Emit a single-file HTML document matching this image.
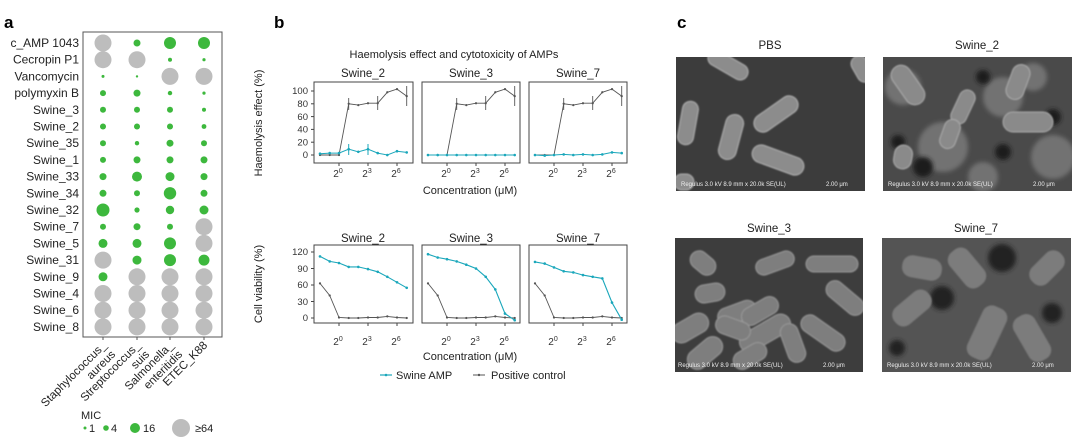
<!DOCTYPE html>
<html><head><meta charset="utf-8"><style>
html,body{margin:0;padding:0;background:#fff;}
svg{display:block;font-family:"Liberation Sans",sans-serif;}
</style></head><body>
<svg width="1080" height="444" viewBox="0 0 1080 444" xmlns="http://www.w3.org/2000/svg">
<defs>
<filter id="bl"><feGaussianBlur stdDeviation="0.8"/></filter>
<filter id="bl2"><feGaussianBlur stdDeviation="2"/></filter>
<marker id="mg" viewBox="-2 -2 4 4" markerWidth="3" markerHeight="3" markerUnits="userSpaceOnUse"><circle r="1.5" fill="#555"/></marker>
<marker id="mc" viewBox="-2 -2 4 4" markerWidth="3.5" markerHeight="3.5" markerUnits="userSpaceOnUse"><circle r="1.5" fill="#1aa7bb"/></marker>
</defs>
<text x="4" y="28" font-size="17" font-weight="bold">a</text>
<text x="274" y="28" font-size="17" font-weight="bold">b</text>
<text x="677" y="28" font-size="17" font-weight="bold">c</text>

<rect x="83" y="32" width="139" height="305" fill="#fff" stroke="#555" stroke-width="1"/>
<g font-size="12" fill="#222" text-anchor="end">
<text x="79" y="47">c_AMP 1043</text>
<text x="79" y="63.7">Cecropin P1</text>
<text x="79" y="80.4">Vancomycin</text>
<text x="79" y="97.1">polymyxin B</text>
<text x="79" y="113.8">Swine_3</text>
<text x="79" y="130.5">Swine_2</text>
<text x="79" y="147.2">Swine_35</text>
<text x="79" y="163.9">Swine_1</text>
<text x="79" y="180.6">Swine_33</text>
<text x="79" y="197.3">Swine_34</text>
<text x="79" y="214">Swine_32</text>
<text x="79" y="230.7">Swine_7</text>
<text x="79" y="247.4">Swine_5</text>
<text x="79" y="264.1">Swine_31</text>
<text x="79" y="280.8">Swine_9</text>
<text x="79" y="297.5">Swine_4</text>
<text x="79" y="314.2">Swine_6</text>
<text x="79" y="330.9">Swine_8</text>
</g>
<g>
<g fill="#bdbdbd">
<circle cx="103" cy="43" r="8.5"/><circle cx="103" cy="59.7" r="8.5"/><circle cx="137" cy="59.7" r="8.5"/>
<circle cx="170" cy="76.4" r="8.5"/><circle cx="204" cy="76.4" r="8.5"/>
<circle cx="204" cy="226.7" r="8.5"/><circle cx="204" cy="243.4" r="8.5"/><circle cx="103" cy="260.1" r="8.5"/>
<circle cx="137" cy="276.8" r="8.5"/><circle cx="170" cy="276.8" r="8.5"/><circle cx="204" cy="276.8" r="8.5"/>
<circle cx="103" cy="293.5" r="8.5"/><circle cx="137" cy="293.5" r="8.5"/><circle cx="170" cy="293.5" r="8.5"/><circle cx="204" cy="293.5" r="8.5"/>
<circle cx="103" cy="310.2" r="8.5"/><circle cx="137" cy="310.2" r="8.5"/><circle cx="170" cy="310.2" r="8.5"/><circle cx="204" cy="310.2" r="8.5"/>
<circle cx="103" cy="326.9" r="8.5"/><circle cx="137" cy="326.9" r="8.5"/><circle cx="170" cy="326.9" r="8.5"/><circle cx="204" cy="326.9" r="8.5"/>
</g>
<g fill="#3db83d">
<circle cx="137" cy="43" r="3.5"/><circle cx="170" cy="43" r="6"/><circle cx="204" cy="43" r="6"/>
<circle cx="170" cy="59.7" r="2"/><circle cx="204" cy="59.7" r="1.6"/>
<circle cx="103" cy="76.4" r="1.5"/><circle cx="137" cy="76.4" r="1.2"/>
<circle cx="103" cy="93.1" r="3"/><circle cx="137" cy="93.1" r="3.5"/><circle cx="170" cy="93.1" r="2.2"/><circle cx="204" cy="93.1" r="1.6"/>
<circle cx="103" cy="109.8" r="3"/><circle cx="137" cy="109.8" r="3"/><circle cx="170" cy="109.8" r="3"/><circle cx="204" cy="109.8" r="2"/>
<circle cx="103" cy="126.5" r="3"/><circle cx="137" cy="126.5" r="3"/><circle cx="170" cy="126.5" r="3"/><circle cx="204" cy="126.5" r="2.4"/>
<circle cx="103" cy="143.2" r="3"/><circle cx="137" cy="143.2" r="2.2"/><circle cx="170" cy="143.2" r="3.5"/><circle cx="204" cy="143.2" r="3"/>
<circle cx="103" cy="159.9" r="3"/><circle cx="137" cy="159.9" r="3.5"/><circle cx="170" cy="159.9" r="3.5"/><circle cx="204" cy="159.9" r="3.5"/>
<circle cx="103" cy="176.6" r="3.5"/><circle cx="137" cy="176.6" r="5"/><circle cx="170" cy="176.6" r="4.5"/><circle cx="204" cy="176.6" r="3.5"/>
<circle cx="103" cy="193.3" r="3.5"/><circle cx="137" cy="193.3" r="3"/><circle cx="170" cy="193.3" r="6.2"/><circle cx="204" cy="193.3" r="3.5"/>
<circle cx="103" cy="210" r="6.5"/><circle cx="137" cy="210" r="2.6"/><circle cx="170" cy="210" r="4.2"/><circle cx="204" cy="210" r="4.5"/>
<circle cx="103" cy="226.7" r="3"/><circle cx="137" cy="226.7" r="3.5"/><circle cx="170" cy="226.7" r="3"/>
<circle cx="103" cy="243.4" r="4.5"/><circle cx="137" cy="243.4" r="4.5"/><circle cx="170" cy="243.4" r="6"/>
<circle cx="137" cy="260.1" r="4.5"/><circle cx="170" cy="260.1" r="6"/><circle cx="204" cy="260.1" r="5.5"/>
<circle cx="103" cy="276.8" r="4.5"/>
</g>
</g>
<g stroke="#555"><line x1="103" y1="337" x2="103" y2="340"/><line x1="137" y1="337" x2="137" y2="340"/><line x1="170" y1="337" x2="170" y2="340"/><line x1="204" y1="337" x2="204" y2="340"/></g>
<g font-size="11.5" fill="#222" text-anchor="end">
<text transform="translate(107,346) rotate(-45)">Staphylococcus_</text>
<text transform="translate(116,355) rotate(-45)">aureus</text>
<text transform="translate(141,346) rotate(-45)">Streptococcus_</text>
<text transform="translate(150,355) rotate(-45)">suis</text>
<text transform="translate(174,346) rotate(-45)">Salmonella_</text>
<text transform="translate(183,355) rotate(-45)">enteritidis</text>
<text transform="translate(208,346) rotate(-45)">ETEC_K88</text>
</g>
<text x="81" y="419" font-size="11" fill="#222">MIC</text>
<g fill="#3db83d"><circle cx="85" cy="428" r="1.5"/><circle cx="106" cy="428" r="2.8"/><circle cx="135" cy="428" r="5"/></g>
<circle cx="181" cy="428" r="9" fill="#bdbdbd"/>
<g font-size="11" fill="#222"><text x="89" y="432">1</text><text x="111" y="432">4</text><text x="143" y="432">16</text><text x="195" y="432">≥64</text></g>

<text x="454" y="58" font-size="11" text-anchor="middle" fill="#222">Haemolysis effect and cytotoxicity of AMPs</text>
<g font-size="11.5" text-anchor="middle" fill="#222">
<text x="363" y="77">Swine_2</text><text x="471" y="77">Swine_3</text><text x="578" y="77">Swine_7</text>
<text x="363" y="242">Swine_2</text><text x="471" y="242">Swine_3</text><text x="578" y="242">Swine_7</text>
</g>
<g fill="none" stroke="#444" stroke-width="1">
<rect x="314" y="82" width="99" height="81"/><rect x="422" y="82" width="98" height="81"/><rect x="529" y="82" width="98" height="81"/>
<rect x="314" y="245" width="99" height="78"/><rect x="422" y="245" width="98" height="78"/><rect x="529" y="245" width="98" height="78"/>
</g>
<g font-size="9.5" fill="#333" text-anchor="end">
<text x="308" y="94">100</text><text x="308" y="107">80</text><text x="308" y="120">60</text><text x="308" y="132.5">40</text><text x="308" y="145.5">20</text><text x="308" y="158">0</text>
<text x="308" y="255">120</text><text x="308" y="272">90</text><text x="308" y="288">60</text><text x="308" y="305">30</text><text x="308" y="321">0</text>
</g>
<g stroke="#444"><line x1="311" y1="91" x2="314" y2="91"/><line x1="311" y1="103.8" x2="314" y2="103.8"/><line x1="311" y1="116.6" x2="314" y2="116.6"/><line x1="311" y1="129.4" x2="314" y2="129.4"/><line x1="311" y1="142.2" x2="314" y2="142.2"/><line x1="311" y1="155" x2="314" y2="155"/>
<line x1="311" y1="252" x2="314" y2="252"/><line x1="311" y1="268.5" x2="314" y2="268.5"/><line x1="311" y1="285" x2="314" y2="285"/><line x1="311" y1="301.5" x2="314" y2="301.5"/><line x1="311" y1="318" x2="314" y2="318"/></g>
<text transform="translate(262,123) rotate(-90)" font-size="11" text-anchor="middle" fill="#222">Haemolysis effect (%)</text>
<text transform="translate(262,284) rotate(-90)" font-size="11" text-anchor="middle" fill="#222">Cell viability (%)</text>
<g stroke="#444"><line x1="339" y1="163" x2="339" y2="166"/><line x1="368" y1="163" x2="368" y2="166"/><line x1="397" y1="163" x2="397" y2="166"/>
<line x1="447" y1="163" x2="447" y2="166"/><line x1="476" y1="163" x2="476" y2="166"/><line x1="505" y1="163" x2="505" y2="166"/>
<line x1="554" y1="163" x2="554" y2="166"/><line x1="583" y1="163" x2="583" y2="166"/><line x1="612" y1="163" x2="612" y2="166"/>
<line x1="339" y1="323" x2="339" y2="326"/><line x1="368" y1="323" x2="368" y2="326"/><line x1="397" y1="323" x2="397" y2="326"/>
<line x1="447" y1="323" x2="447" y2="326"/><line x1="476" y1="323" x2="476" y2="326"/><line x1="505" y1="323" x2="505" y2="326"/>
<line x1="554" y1="323" x2="554" y2="326"/><line x1="583" y1="323" x2="583" y2="326"/><line x1="612" y1="323" x2="612" y2="326"/></g>
<g font-size="10" fill="#333" text-anchor="middle">
<text x="338" y="177">2<tspan dy="-4" font-size="7">0</tspan></text><text x="367" y="177">2<tspan dy="-4" font-size="7">3</tspan></text><text x="396" y="177">2<tspan dy="-4" font-size="7">6</tspan></text>
<text x="446" y="177">2<tspan dy="-4" font-size="7">0</tspan></text><text x="475" y="177">2<tspan dy="-4" font-size="7">3</tspan></text><text x="504" y="177">2<tspan dy="-4" font-size="7">6</tspan></text>
<text x="553" y="177">2<tspan dy="-4" font-size="7">0</tspan></text><text x="582" y="177">2<tspan dy="-4" font-size="7">3</tspan></text><text x="611" y="177">2<tspan dy="-4" font-size="7">6</tspan></text>
<text x="338" y="345">2<tspan dy="-4" font-size="7">0</tspan></text><text x="367" y="345">2<tspan dy="-4" font-size="7">3</tspan></text><text x="396" y="345">2<tspan dy="-4" font-size="7">6</tspan></text>
<text x="446" y="345">2<tspan dy="-4" font-size="7">0</tspan></text><text x="475" y="345">2<tspan dy="-4" font-size="7">3</tspan></text><text x="504" y="345">2<tspan dy="-4" font-size="7">6</tspan></text>
<text x="553" y="345">2<tspan dy="-4" font-size="7">0</tspan></text><text x="582" y="345">2<tspan dy="-4" font-size="7">3</tspan></text><text x="611" y="345">2<tspan dy="-4" font-size="7">6</tspan></text>
</g>
<text x="470" y="194" font-size="11" text-anchor="middle" fill="#222">Concentration (μM)</text>
<text x="470" y="360" font-size="11" text-anchor="middle" fill="#222">Concentration (μM)</text>

<g id="hg" fill="none" stroke="#555" stroke-width="0.9">
<polyline marker-start="url(#mg)" marker-mid="url(#mg)" marker-end="url(#mg)" points="320,155 329.7,155 339,155 348.7,103.8 358.3,105.1 368,103.2 377.7,103.2 387.3,92.3 397,89.1 406.7,96.1"/>
<line x1="348.7" y1="98" x2="348.7" y2="110"/><line x1="377.7" y1="96" x2="377.7" y2="110"/><line x1="406.7" y1="86" x2="406.7" y2="106"/>
</g>
<use href="#hg" transform="translate(108,0)"/>
<use href="#hg" transform="translate(215,0)"/>
<g fill="none" stroke="#1aa7bb" stroke-width="1">
<polyline marker-start="url(#mc)" marker-mid="url(#mc)" marker-end="url(#mc)" points="320,153.7 329.7,153.1 339,153.1 348.7,149.2 358.3,151.8 368,149.2 377.7,153.1 387.3,155 397,151.2 406.7,152.4"/>
<line x1="348.7" y1="144" x2="348.7" y2="155"/><line x1="368" y1="144" x2="368" y2="155"/>
<polyline marker-start="url(#mc)" marker-mid="url(#mc)" marker-end="url(#mc)" points="428,155 437.7,155 447,155 456.7,155 466.3,155 476,155 485.7,155 495.3,155 505,155 514.7,155"/>
<polyline marker-start="url(#mc)" marker-mid="url(#mc)" marker-end="url(#mc)" points="535,155 544.7,155.6 554,155 563.7,154.4 573.3,155 583,154.4 592.7,155 602.3,154.4 612,152.4 621.7,153.1"/>
</g>
<g id="vg" fill="none" stroke="#555" stroke-width="0.9">
<polyline marker-start="url(#mg)" marker-mid="url(#mg)" marker-end="url(#mg)" points="320,283.4 329.7,295.5 339,317.5 348.7,318 358.3,318 368,317.5 377.7,317.5 387.3,316.4 397,317.5 406.7,318"/>
</g>
<use href="#vg" transform="translate(108,0)"/>
<use href="#vg" transform="translate(215,0)"/>
<g fill="none" stroke="#1aa7bb" stroke-width="1.1">
<polyline marker-start="url(#mc)" marker-mid="url(#mc)" marker-end="url(#mc)" points="320,256.4 329.7,261.4 339,263 348.7,266.9 358.3,266.9 368,269.1 377.7,271.8 387.3,276.8 397,282.3 406.7,287.8"/>
<polyline marker-start="url(#mc)" marker-mid="url(#mc)" marker-end="url(#mc)" transform="translate(108,0)" points="320,254.2 329.7,257.5 339,259.2 348.7,261.4 358.3,264.7 368,268.5 377.7,276.8 387.3,289.4 397,313.6 406.7,320.2"/>
<polyline marker-start="url(#mc)" marker-mid="url(#mc)" marker-end="url(#mc)" transform="translate(215,0)" points="320,261.9 329.7,263.6 339,267.4 348.7,271.3 358.3,272.4 368,275.1 377.7,276.8 387.3,278.4 397,302.6 406.7,319.7"/>
</g>
<line x1="380" y1="375" x2="392" y2="375" stroke="#1aa7bb" stroke-width="1.2"/><circle cx="386" cy="375" r="1.3" fill="#1aa7bb"/>
<text x="396" y="379" font-size="11" fill="#222">Swine AMP</text>
<line x1="473" y1="375" x2="485" y2="375" stroke="#555"/><circle cx="479" cy="375" r="1.2" fill="#555"/>
<text x="491" y="379" font-size="11" fill="#222">Positive control</text>

<g font-size="11.5" fill="#222" text-anchor="middle">
<text x="770" y="49">PBS</text><text x="977" y="49">Swine_2</text>
<text x="769" y="232">Swine_3</text><text x="976" y="232">Swine_7</text>
</g>
<svg x="676" y="57" width="189" height="134">
<rect width="189" height="134" fill="#3c3c3c"/>
<g fill="#8c8c8c" stroke="#b0b0b0" stroke-width="1" filter="url(#bl)">
<rect x="-22" y="-8" width="44" height="16" rx="8" transform="translate(52,8) rotate(30)"/>
<rect x="-25" y="-9" width="50" height="18" rx="9" transform="translate(100,57) rotate(-35)"/>
<rect x="-22" y="-8" width="44" height="16" rx="8" transform="translate(12,66) rotate(-80)"/>
<rect x="-23" y="-9" width="46" height="18" rx="9" transform="translate(55,80) rotate(-75)"/>
<rect x="-27" y="-9" width="54" height="18" rx="9" transform="translate(102,103) rotate(20)"/>
<rect x="-14" y="-8" width="28" height="16" rx="8" transform="translate(186,12) rotate(60)"/>
<rect x="-10" y="-8" width="20" height="16" rx="8" transform="translate(8,125)"/>
</g>
<text x="5" y="129" font-size="6" fill="#eee">Regulus 3.0 kV 8.9 mm x 20.0k SE(UL)</text>
<text x="150" y="129" font-size="6" fill="#eee">2.00 μm</text>
</svg>
<svg x="883" y="57" width="189" height="134">
<rect width="189" height="134" fill="#4a4a4a"/>
<g fill="#727272" filter="url(#bl2)">
<circle cx="20" cy="30" r="18"/><circle cx="60" cy="90" r="25"/><circle cx="120" cy="40" r="20"/><circle cx="170" cy="100" r="22"/><circle cx="100" cy="120" r="15"/><circle cx="150" cy="20" r="14"/>
</g>
<g fill="#1e1e1e" filter="url(#bl2)"><circle cx="40" cy="110" r="10"/><circle cx="170" cy="60" r="8"/><circle cx="100" cy="20" r="7"/><circle cx="15" cy="85" r="7"/><circle cx="120" cy="95" r="8"/></g>
<g fill="#8a8a8a" stroke="#aaa" filter="url(#bl)">
<rect x="-22" y="-10" width="44" height="20" rx="10" transform="translate(25,28) rotate(55)"/>
<rect x="-18" y="-8" width="36" height="16" rx="8" transform="translate(80,50) rotate(-65)"/>
<rect x="-15" y="-8" width="30" height="16" rx="8" transform="translate(67,77) rotate(-70)"/>
<rect x="-25" y="-10" width="50" height="20" rx="10" transform="translate(145,65)"/>
<rect x="-12" y="-9" width="24" height="18" rx="9" transform="translate(20,100) rotate(-80)"/>
<rect x="-18" y="-9" width="36" height="18" rx="9" transform="translate(135,25) rotate(-70)"/>
</g>
<text x="5" y="129" font-size="6" fill="#eee">Regulus 3.0 kV 8.9 mm x 20.0k SE(UL)</text>
<text x="150" y="129" font-size="6" fill="#eee">2.00 μm</text>
</svg>
<svg x="675" y="238" width="188" height="134">
<rect width="188" height="134" fill="#3d3d3d"/>
<g fill="#7e7e7e" stroke="#999" filter="url(#bl)">
<rect x="-14" y="-9" width="28" height="18" rx="9" transform="translate(28,25) rotate(40)"/>
<rect x="-20" y="-8" width="40" height="16" rx="8" transform="translate(100,25) rotate(-20)"/>
<rect x="-26" y="-8" width="52" height="16" rx="8" transform="translate(157,26)"/>
<rect x="-15" y="-9" width="30" height="18" rx="9" transform="translate(35,55) rotate(-10)"/>
<rect x="-20" y="-9" width="40" height="18" rx="9" transform="translate(62,75) rotate(-20)"/>
<rect x="-20" y="-9" width="40" height="18" rx="9" transform="translate(85,73) rotate(-30)"/>
<rect x="-28" y="-10" width="56" height="20" rx="10" transform="translate(90,95) rotate(-30)"/>
<rect x="-18" y="-9" width="36" height="18" rx="9" transform="translate(58,90) rotate(20)"/>
<rect x="-20" y="-10" width="40" height="20" rx="10" transform="translate(15,90) rotate(-30)"/>
<rect x="-20" y="-10" width="40" height="20" rx="10" transform="translate(30,115) rotate(-40)"/>
<rect x="-22" y="-9" width="44" height="18" rx="9" transform="translate(170,60) rotate(40)"/>
<rect x="-25" y="-9" width="50" height="18" rx="9" transform="translate(148,95) rotate(35)"/>
<rect x="-20" y="-9" width="40" height="18" rx="9" transform="translate(118,105) rotate(70)"/>
<rect x="-18" y="-9" width="36" height="18" rx="9" transform="translate(75,118) rotate(-30)"/>
</g>
<text x="3" y="129" font-size="6" fill="#eee">Regulus 3.0 kV 8.9 mm x 20.0k SE(UL)</text>
<text x="148" y="129" font-size="6" fill="#eee">2.00 μm</text>
</svg>
<svg x="882" y="238" width="189" height="134">
<rect width="189" height="134" fill="#545454"/>
<g fill="#222" filter="url(#bl2)"><circle cx="60" cy="60" r="12"/><circle cx="120" cy="20" r="14"/><circle cx="170" cy="75" r="10"/><circle cx="15" cy="110" r="8"/><circle cx="100" cy="110" r="9"/></g>
<g fill="#7c7c7c" filter="url(#bl)">
<rect x="-22" y="-12" width="44" height="24" rx="10" transform="translate(85,30) rotate(50)"/>
<rect x="-28" y="-13" width="56" height="26" rx="10" transform="translate(105,95) rotate(-65)"/>
<rect x="-22" y="-11" width="44" height="22" rx="10" transform="translate(30,70) rotate(-40)"/>
<rect x="-25" y="-12" width="50" height="24" rx="10" transform="translate(150,100) rotate(60)"/>
<rect x="-20" y="-11" width="40" height="22" rx="10" transform="translate(165,30) rotate(-45)"/>
<rect x="-20" y="-11" width="40" height="22" rx="10" transform="translate(40,30) rotate(10)"/>
</g>
<text x="5" y="129" font-size="6" fill="#eee">Regulus 3.0 kV 8.9 mm x 20.0k SE(UL)</text>
<text x="150" y="129" font-size="6" fill="#eee">2.00 μm</text>
</svg>
</svg>
</body></html>
